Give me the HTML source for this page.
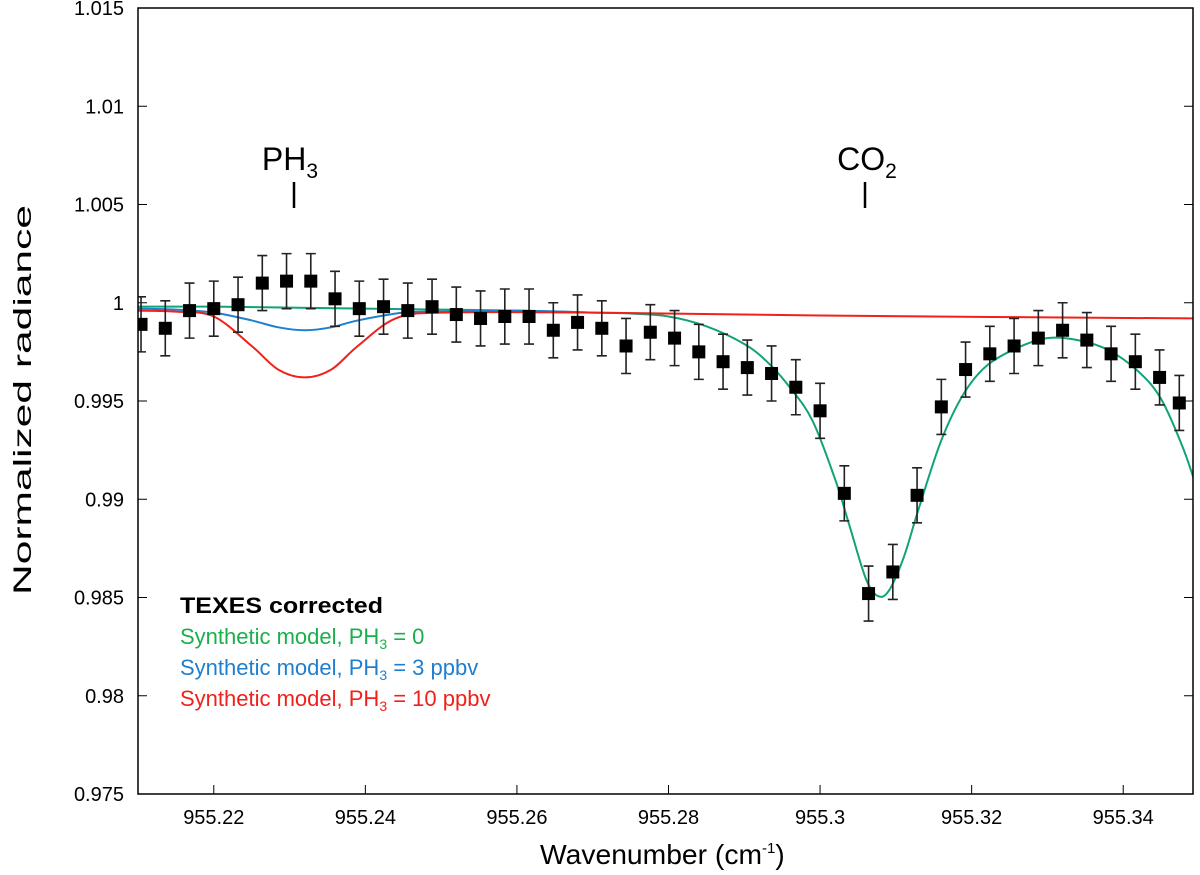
<!DOCTYPE html>
<html><head><meta charset="utf-8"><style>
body{margin:0;background:#fff;}
svg{display:block;font-family:"Liberation Sans",sans-serif;}
</style></head><body>
<svg id="chart" width="1200" height="875"></svg>
<script>
const obsX=[955.2104,955.2136,955.2168,955.2200,955.2232,955.2264,955.2296,955.2328,955.2360,955.2392,955.2424,955.2456,955.2488,955.2520,955.2552,955.2584,955.2616,955.2648,955.2680,955.2712,955.2744,955.2776,955.2808,955.2840,955.2872,955.2904,955.2936,955.2968,955.3000,955.3032,955.3064,955.3096,955.3128,955.3160,955.3192,955.3224,955.3256,955.3288,955.3320,955.3352,955.3384,955.3416,955.3448,955.3474];
const obsY=[0.9989,0.9987,0.9996,0.9997,0.9999,1.0010,1.0011,1.0011,1.0002,0.9997,0.9998,0.9996,0.9998,0.9994,0.9992,0.9993,0.9993,0.9986,0.9990,0.9987,0.9978,0.9985,0.9982,0.9975,0.9970,0.9967,0.9964,0.9957,0.9945,0.9903,0.9852,0.9863,0.9902,0.9947,0.9966,0.9974,0.9978,0.9982,0.9986,0.9981,0.9974,0.9970,0.9962,0.9949];
const obsErr=0.0014;
const greenX=[955.21,955.22,955.23,955.24,955.25,955.26,955.27,955.275,955.28,955.285,955.29,955.293,955.296,955.299,955.302,955.304,955.306,955.3075,955.309,955.311,955.313,955.316,955.319,955.322,955.326,955.33,955.334,955.338,955.342,955.345,955.348,955.35];
const greenY=[0.9998,0.9998,0.99975,0.9997,0.99965,0.9996,0.9995,0.99945,0.9993,0.9988,0.9979,0.9970,0.9957,0.9940,0.9910,0.9885,0.9860,0.9851,0.9853,0.9870,0.9895,0.9930,0.9954,0.9968,0.9977,0.9982,0.9981,0.9976,0.9965,0.9951,0.9925,0.9902];
const blueX=[955.21,955.215,955.22,955.225,955.2285,955.232,955.2355,955.239,955.245,955.25,955.26,955.27];
const blueY=[0.9997,0.99965,0.9995,0.9991,0.99875,0.9986,0.99875,0.9991,0.9995,0.99955,0.9996,0.9995];
const redX=[955.21,955.215,955.22,955.225,955.2285,955.232,955.2355,955.239,955.244,955.25,955.27,955.30,955.35];
const redY=[0.9996,0.99955,0.9993,0.9978,0.9966,0.9962,0.9966,0.9978,0.9992,0.9995,0.9995,0.99935,0.9992];
const yTicks=[1.015,1.01,1.005,1,0.995,0.99,0.985,0.98,0.975];
const yTickLabels=["1.015","1.01","1.005","1","0.995","0.99","0.985","0.98","0.975"];
const xTicks=[955.22,955.24,955.26,955.28,955.3,955.32,955.34];
const xTickLabels=["955.22","955.24","955.26","955.28","955.3","955.32","955.34"];

const L=138,R=1199,FR=1193,T=8,B=794;
const X=v=>L+(v-955.21)/0.14*(R-L);
const Y=v=>B-(v-0.975)/0.04*(B-T);
const svg=document.getElementById('chart');
const NS='http://www.w3.org/2000/svg';
function mk(tag,attrs,parent){const e=document.createElementNS(NS,tag);for(const k in attrs)e.setAttribute(k,attrs[k]);(parent||svg).appendChild(e);return e;}
function smooth(xs,ys){const p=xs.map((x,i)=>[X(x),Y(ys[i])]);let d='M'+p[0][0]+','+p[0][1];
for(let i=0;i<p.length-1;i++){const p0=p[i-1]||p[i],p1=p[i],p2=p[i+1],p3=p[i+2]||p2;
const c1=[p1[0]+(p2[0]-p0[0])/6,p1[1]+(p2[1]-p0[1])/6],c2=[p2[0]-(p3[0]-p1[0])/6,p2[1]-(p3[1]-p1[1])/6];
d+=`C${c1[0]},${c1[1]} ${c2[0]},${c2[1]} ${p2[0]},${p2[1]}`;}return d;}

yTicks.forEach((v,i)=>{
  const t=mk('line',{x1:L,x2:L+9,y1:Y(v),y2:Y(v),stroke:'#000','stroke-width':1});
  
  const t2=mk('line',{x1:FR-9,x2:FR,y1:Y(v),y2:Y(v),stroke:'#000','stroke-width':1});
  
  const lb=mk('text',{x:L-14,y:Y(v)+7,'text-anchor':'end','font-size':20});
  
  lb.textContent=yTickLabels[i];
});
xTicks.forEach((v,i)=>{
  const t=mk('line',{x1:X(v),x2:X(v),y1:B,y2:B-9,stroke:'#000','stroke-width':1});
  
  const lb=mk('text',{x:X(v),y:B+30,'text-anchor':'middle','font-size':20});
  
  lb.textContent=xTickLabels[i];
});
const clip=mk('clipPath',{id:'pc'});mk('rect',{x:L,y:T,width:FR-L,height:B-T},clip);
const g=mk('g',{'clip-path':'url(#pc)'});
const gl=mk('path',{d:smooth(greenX,greenY),fill:'none',stroke:'#10a37a','stroke-width':2},g);

const bl=mk('path',{d:smooth(blueX,blueY),fill:'none',stroke:'#1f7fcf','stroke-width':2},g);

const rl=mk('path',{d:smooth(redX,redY),fill:'none',stroke:'#f0211a','stroke-width':2},g);

obsX.forEach((x,i)=>{
  const cx=X(x),y1=Y(obsY[i]+obsErr),y2=Y(obsY[i]-obsErr);
  const eb=mk('path',{d:`M${cx},${y1}V${y2}M${cx-5},${y1}H${cx+5}M${cx-5},${y2}H${cx+5}`,stroke:'#222','stroke-width':1.6,fill:'none'},g);
  
  const m=mk('rect',{x:cx-6.5,y:Y(obsY[i])-6.5,width:13,height:13,fill:'#000'},g);
  
});
const fr=mk('rect',{x:L,y:T,width:FR-L,height:B-T,fill:'none',stroke:'#000','stroke-width':1.5});

</script>
<svg style="position:absolute;left:0;top:0" width="1200" height="875">
<text x="22" y="400" transform="rotate(-90 22 400)" text-anchor="middle" font-size="25" font-family="Liberation Sans,sans-serif" dy="9" textLength="390" lengthAdjust="spacingAndGlyphs">Normalized radiance</text>
<text x="540" y="864" font-size="28" font-family="Liberation Sans,sans-serif"><tspan textLength="222" lengthAdjust="spacingAndGlyphs">Wavenumber (cm</tspan><tspan font-size="15" dy="-11">-1</tspan><tspan dy="11">)</tspan></text>
<text x="290" y="170" text-anchor="middle" font-size="32" font-family="Liberation Sans,sans-serif">PH<tspan font-size="21" dy="8">3</tspan></text>
<line x1="294" y1="182" x2="294" y2="208" stroke="#000" stroke-width="2.5"/>
<text x="867" y="170" text-anchor="middle" font-size="32" font-family="Liberation Sans,sans-serif">CO<tspan font-size="21" dy="8">2</tspan></text>
<line x1="865" y1="182" x2="865" y2="208" stroke="#000" stroke-width="2.5"/>
<g font-size="22" font-family="Liberation Sans,sans-serif">
<text x="180" y="613" font-weight="bold" fill="#000" textLength="203" lengthAdjust="spacingAndGlyphs">TEXES corrected</text>
<text x="180" y="644" fill="#19b04b">Synthetic model, PH<tspan font-size="14" dy="5">3</tspan><tspan dy="-5"> = 0</tspan></text>
<text x="180" y="675" fill="#1f7fcf">Synthetic model, PH<tspan font-size="14" dy="5">3</tspan><tspan dy="-5"> = 3 ppbv</tspan></text>
<text x="180" y="706" fill="#f0211a">Synthetic model, PH<tspan font-size="14" dy="5">3</tspan><tspan dy="-5"> = 10 ppbv</tspan></text>
</g>
</svg>
</body></html>
